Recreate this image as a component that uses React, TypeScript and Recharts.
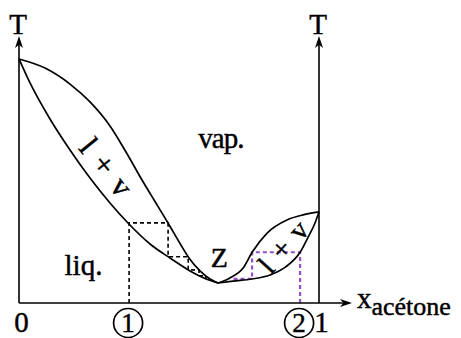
import { ComposedChart, Line, XAxis, YAxis, ReferenceLine, ReferenceDot } from "recharts";

const FONT = '"Liberation Serif", "Times New Roman", serif';
const PURPLE = "#9650c4";
// a hairline outline gives the serif labels a bit more weight
const INK = { fill: "#000", stroke: "#000", strokeWidth: 0.45 };

// left lens: bubble (liquid) and dew (vapour) curves, x = mole fraction of acetone
const liquidLeft = [
  { x: 0, T: 91.4 },
  { x: 0.0367, T: 82.4 },
  { x: 0.1033, T: 68.9 },
  { x: 0.17, T: 57.3 },
  { x: 0.2367, T: 46.8 },
  { x: 0.3033, T: 37.45 },
  { x: 0.3633, T: 29.96 },
  { x: 0.4367, T: 22.1 },
  { x: 0.5033, T: 16.85 },
  { x: 0.57, T: 12.0 },
  { x: 0.62, T: 9.18 },
  { x: 0.6633, T: 7.49 },
];
const vapourLeft = [
  { x: 0, T: 91.4 },
  { x: 0.0867, T: 88.0 },
  { x: 0.17, T: 82.0 },
  { x: 0.2367, T: 75.3 },
  { x: 0.3033, T: 66.3 },
  { x: 0.3567, T: 56.55 },
  { x: 0.41, T: 46.07 },
  { x: 0.4533, T: 38.0 },
  { x: 0.4967, T: 29.96 },
  { x: 0.5367, T: 22.28 },
  { x: 0.5667, T: 16.85 },
  { x: 0.6033, T: 12.0 },
  { x: 0.6367, T: 9.0 },
  { x: 0.6633, T: 7.49 },
];

// right lens, from the azeotrope Z to pure acetone
const vapourRight = [
  { x: 0.6633, T: 7.49 },
  { x: 0.703, T: 9.4 },
  { x: 0.747, T: 13.1 },
  { x: 0.777, T: 19.0 },
  { x: 0.827, T: 26.2 },
  { x: 0.893, T: 31.1 },
  { x: 0.947, T: 33.0 },
  { x: 1, T: 34.1 },
];
const liquidRight = [
  { x: 0.6633, T: 7.49 },
  { x: 0.713, T: 8.2 },
  { x: 0.777, T: 9.0 },
  { x: 0.837, T: 10.5 },
  { x: 0.89, T: 13.6 },
  { x: 0.937, T: 19.0 },
  { x: 0.963, T: 24.5 },
  { x: 0.985, T: 29.5 },
  { x: 1, T: 34.1 },
];

// distillation steps starting from feeds 1 and 2
const stepsFeed1 = [
  { x: 0.367, T: 0 },
  { x: 0.367, T: 30 },
  { x: 0.497, T: 30 },
  { x: 0.497, T: 17.3 },
  { x: 0.564, T: 17.3 },
  { x: 0.564, T: 12.4 },
  { x: 0.6, T: 12.4 },
  { x: 0.6, T: 10.2 },
  { x: 0.623, T: 10.2 },
  { x: 0.623, T: 9.0 },
];
const stepsFeed2 = [
  { x: 0.937, T: 0 },
  { x: 0.937, T: 19 },
  { x: 0.777, T: 19 },
  { x: 0.777, T: 9 },
  { x: 0.705, T: 9 },
];

const tickValues = [0, 0.367, 0.937, 1];
const tickLabels = ["0", "1", "2", "1"];
const tickCircled = [false, true, true, false];

function Arrow(props: any) {
  const { x1, y1, x2, y2 } = props;
  const dx = x2 - x1;
  const dy = y2 - y1;
  const len = Math.hypot(dx, dy) || 1;
  const ux = dx / len;
  const uy = dy / len;
  const nx = -uy;
  const ny = ux;
  const L = 12;
  const W = 4;
  const bx = x2 - ux * L;
  const by = y2 - uy * L;
  const mx = x2 - ux * L * 0.72;
  const my = y2 - uy * L * 0.72;
  const head = `M${x2},${y2} L${bx + nx * W},${by + ny * W} L${mx},${my} L${bx - nx * W},${by - ny * W} Z`;
  return (
    <g>
      <line x1={x1} y1={y1} x2={mx} y2={my} stroke="#000" strokeWidth={1.6} />
      <path d={head} fill="#000" />
    </g>
  );
}

function textShape(text: string, opts: { dx?: number; dy?: number; size?: number; rotate?: number; spacing?: number } = {}) {
  const { dx = 0, dy = 0, size = 29, rotate = 0, spacing = 0 } = opts;
  return (p: any) => {
    const x = p.cx + dx;
    const y = p.cy + dy;
    return (
      <text
        x={x}
        y={y}
        textAnchor="middle"
        dominantBaseline={rotate ? "central" : "alphabetic"}
        fontFamily={FONT}
        fontSize={size}
        letterSpacing={spacing}
        {...INK}
        transform={rotate ? `rotate(${rotate} ${x} ${y})` : undefined}
      >
        {text}
      </text>
    );
  };
}

function AxisTick(props: any) {
  const { x, payload } = props;
  const i = tickValues.indexOf(payload.value);
  const base = 332;
  if (tickCircled[i]) {
    return (
      <g>
        <circle cx={x - 1} cy={323} r={14.5} fill="none" stroke="#000" strokeWidth={1.7} />
        <text x={x - 1} y={base} textAnchor="middle" fontFamily={FONT} fontSize={27} {...INK}>
          {tickLabels[i]}
        </text>
      </g>
    );
  }
  return (
    <text x={x + 2.5} y={base} textAnchor="middle" fontFamily={FONT} fontSize={29} {...INK}>
      {tickLabels[i]}
    </text>
  );
}

const curve = { type: "monotone" as const, stroke: "#000", strokeWidth: 1.7, dot: false, activeDot: false, isAnimationActive: false };
const steps = { type: "linear" as const, strokeDasharray: "4 3", dot: false, activeDot: false, isAnimationActive: false };

export default function App() {
  return (
    <div style={{ position: "absolute", left: 0, top: 0, background: "#fff" }}>
      <ComposedChart width={461} height={338} margin={{ top: 36, right: 82, bottom: 0, left: 19 }}>
        <XAxis
          dataKey="x"
          type="number"
          domain={[0, 1.2]}
          ticks={tickValues}
          axisLine={false}
          tickLine={false}
          height={35}
          tick={<AxisTick />}
          interval={0}
        />
        <YAxis type="number" domain={[0, 100]} hide />

        <Line data={stepsFeed1} dataKey="T" stroke="#000" strokeWidth={1.6} {...steps} />
        <Line data={stepsFeed2} dataKey="T" stroke={PURPLE} strokeWidth={2.2} {...steps} />

        <Line data={liquidLeft} dataKey="T" {...curve} />
        <Line data={vapourLeft} dataKey="T" {...curve} />
        <Line data={vapourRight} dataKey="T" {...curve} />
        <Line data={liquidRight} dataKey="T" {...curve} />

        <ReferenceLine segment={[{ x: 0, y: 0 }, { x: 1.11, y: 0 }]} shape={(p: any) => <Arrow {...p} />} />
        <ReferenceLine segment={[{ x: 0, y: 0 }, { x: 0, y: 100 }]} shape={(p: any) => <Arrow {...p} />} />
        <ReferenceLine segment={[{ x: 1, y: 0 }, { x: 1, y: 100 }]} shape={(p: any) => <Arrow {...p} />} />

        <ReferenceDot x={0} y={100} r={0} shape={textShape("T", { dx: -1, dy: -2 })} />
        <ReferenceDot x={1} y={100} r={0} shape={textShape("T", { dx: -1, dy: -2 })} />
        <ReferenceDot
          x={1.13}
          y={0}
          r={0}
          shape={(p: any) => (
            <text x={p.cx - 1} y={p.cy + 5} fontFamily={FONT} fontSize={29} {...INK}>
              x
              <tspan fontSize={26} dy={7}>
                acétone
              </tspan>
            </text>
          )}
        />
        <ReferenceDot x={0.673} y={58} r={0} shape={textShape("vap.", { spacing: -1 })} />
        <ReferenceDot x={0.215} y={10.5} r={0} shape={textShape("liq.")} />
        <ReferenceDot x={0.668} y={13.5} r={0} shape={textShape("Z", { size: 28 })} />
        <ReferenceDot x={0.293} y={50.6} r={0} shape={textShape("l + v", { rotate: 51, spacing: 2, size: 31 })} />
        <ReferenceDot x={0.882} y={21.3} r={0} shape={textShape("l + v", { rotate: -48, spacing: 1.5, size: 29 })} />
      </ComposedChart>
    </div>
  );
}
